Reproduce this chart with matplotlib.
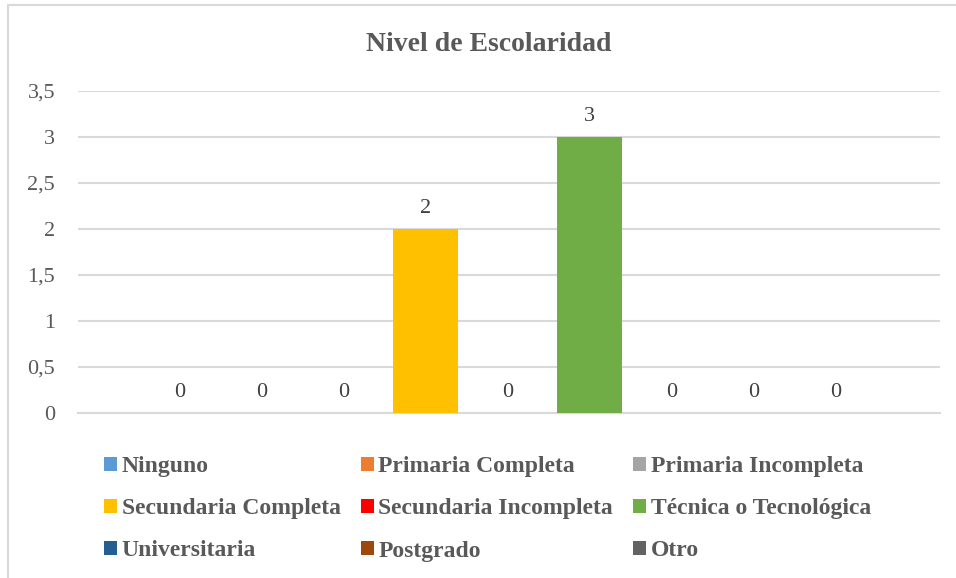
import matplotlib.pyplot as plt
from matplotlib.patches import Rectangle

plt.rcParams['font.family'] = ['Liberation Serif', 'DejaVu Serif']

# datos
categorias = ["Ninguno", "Primaria Completa", "Primaria Incompleta",
              "Secundaria Completa", "Secundaria Incompleta", "Técnica o Tecnológica",
              "Universitaria", "Postgrado", "Otro"]
valores = [0, 0, 0, 2, 0, 3, 0, 0, 0]
colores = ["#5B9BD5", "#ED7D31", "#A5A5A5", "#FFC000", "#FF0000",
           "#70AD47", "#255E91", "#9E480E", "#636363"]
yticks = [0, 0.5, 1, 1.5, 2, 2.5, 3, 3.5]
ytick_labels = ["0", "0,5", "1", "1,5", "2", "2,5", "3", "3,5"]

W, H = 956, 578
fig = plt.figure(figsize=(W / 100, H / 100), dpi=100)

# borde del gráfico
fig.patches.append(Rectangle((8 / W, -0.1), 1.2, 1 - 5 / H + 0.1, transform=fig.transFigure,
                             fill=False, edgecolor="#D9D9D9", linewidth=1.5))

ax = fig.add_axes([78 / W, (H - 413) / H, (940 - 78) / W, (413 - 91) / H])

for i, (cat, val, col) in enumerate(zip(categorias, valores, colores)):
    ax.bar(i, val, width=0.79, color=col, label=cat, zorder=3)
    ax.annotate(str(val), xy=(i, val), xytext=(0, 11.5), textcoords="offset points",
                ha="center", va="baseline", fontsize=16, color="#404040")

ax.set_xlim(-1.24, 9.27)
ax.set_ylim(0, 3.5)
ax.set_yticks(yticks)
ax.set_yticklabels(ytick_labels)
ax.set_xticks([])
ax.tick_params(axis="y", length=0, pad=16.5, labelsize=16, labelcolor="#595959")
ax.grid(axis="y", color="#D9D9D9", linewidth=1.5, zorder=0)
for s in ["top", "right", "left"]:
    ax.spines[s].set_visible(False)
ax.spines["bottom"].set_color("#D9D9D9")
ax.spines["bottom"].set_linewidth(1.5)

fig.text(488.5 / W, 1 - 51 / H, "Nivel de Escolaridad", ha="center", va="baseline",
         fontsize=20, fontweight="bold", color="#595959")

handles, labels = ax.get_legend_handles_labels()
# reordenar para llenar por filas (3 columnas)
orden = [0, 3, 6, 1, 4, 7, 2, 5, 8]
leg = fig.legend([handles[k] for k in orden], [labels[k] for k in orden],
                 loc="upper left", bbox_to_anchor=(104 / W, 1 - 456 / H), ncol=3,
                 frameon=False, borderpad=0, borderaxespad=0,
                 handlelength=0.55, handleheight=0.55, handletextpad=0.2,
                 columnspacing=0.85, labelspacing=0.9,
                 prop={"size": 17, "weight": "bold"})
for t in leg.get_texts():
    t.set_color("#595959")

fig.savefig("out.png", dpi=100)
